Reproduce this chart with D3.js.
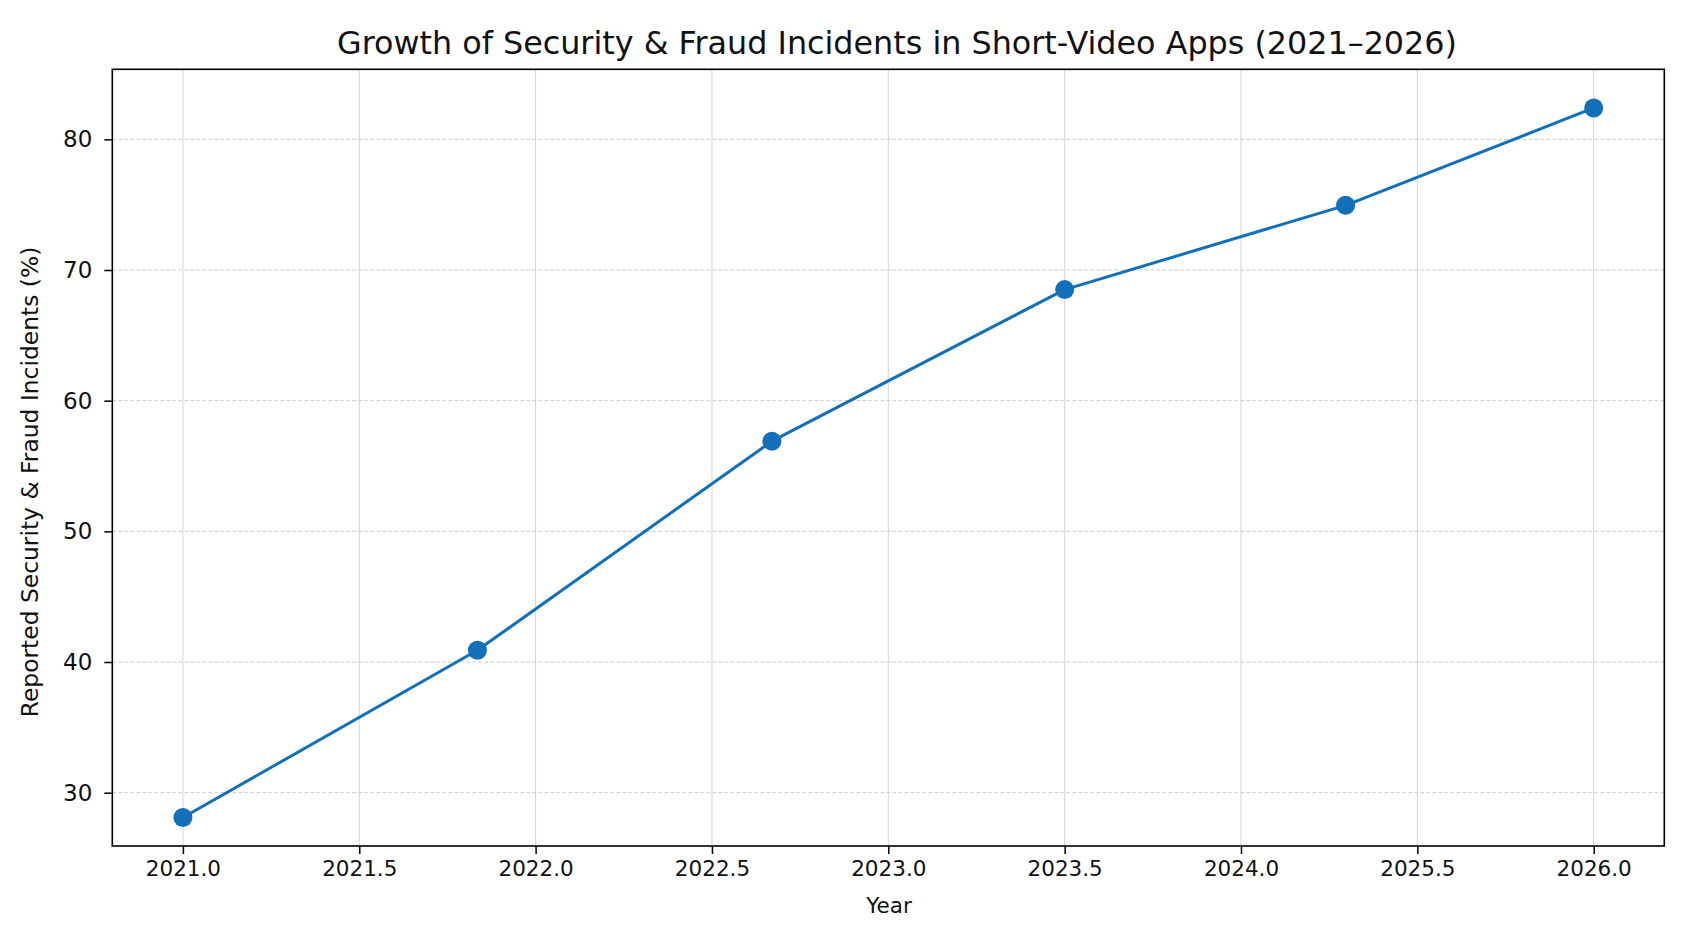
<!DOCTYPE html>
<html>
<head>
<meta charset="utf-8">
<script src="https://cdn.jsdelivr.net/npm/d3@7"></script>
<style>
  html, body { margin: 0; padding: 0; background: #ffffff; }
  svg { display: block; font-family: "DejaVu Sans", sans-serif; }
</style>
</head>
<body>
<svg id="chart" width="1681" height="935"></svg>
<script>
// ---- data ----
const title = "Growth of Security & Fraud Incidents in Short-Video Apps (2021–2026)";
const xLabel = "Year";
const yLabel = "Reported Security & Fraud Incidents (%)";
const years = [2021.0, 2021.835, 2022.67, 2023.5, 2024.89, 2026.0];
const incidents = [28.1, 40.9, 56.9, 68.5, 74.95, 82.4];
const xTickValues = [2021.0, 2021.5, 2022.0, 2022.5, 2023.0, 2023.5, 2024.0, 2025.5, 2026.0];
const xTickLabels = ["2021.0", "2021.5", "2022.0", "2022.5", "2023.0", "2023.5", "2024.0", "2025.5", "2026.0"];
const yTickValues = [30, 40, 50, 60, 70, 80];

// ---- layout ----
const W = 1681, H = 935;
const plot = { left: 112.3, right: 1664.3, top: 69.3, bottom: 846 };
const color = "#1170b9";

const svg = d3.select("#chart");
svg.append("rect").attr("width", W).attr("height", H).attr("fill", "#ffffff");

// x: evenly spaced ticks (axis labels as shown), polylinear mapping
const innerPad = (plot.right - plot.left) * 0.0455;
const xIdx = d3.scaleLinear().domain([0, xTickValues.length - 1])
  .range([plot.left + innerPad, plot.right - innerPad]);
const x = d3.scaleLinear().domain(xTickValues).range(xTickValues.map((_, i) => xIdx(i)));
const y = d3.scaleLinear().domain([25.92, 85.36]).range([plot.bottom, plot.top]);

// grid
const g = svg.append("g");
g.selectAll("line.vgrid").data(xTickValues).join("line")
  .attr("x1", d => x(d)).attr("x2", d => x(d))
  .attr("y1", plot.top).attr("y2", plot.bottom)
  .attr("stroke", "#d4d4d4").attr("stroke-width", 1);
g.selectAll("line.hgrid").data(yTickValues).join("line")
  .attr("x1", plot.left).attr("x2", plot.right)
  .attr("y1", d => y(d)).attr("y2", d => y(d))
  .attr("stroke", "#cccccc").attr("stroke-width", 1).attr("stroke-dasharray", "4,2");

// axes
const xAxis = d3.axisBottom(x).tickValues(xTickValues)
  .tickFormat((d, i) => xTickLabels[i]).tickSizeInner(8).tickSizeOuter(0).tickPadding(7);
const gx = svg.append("g").attr("transform", `translate(0,${plot.bottom})`).call(xAxis);
gx.select(".domain").remove();
gx.selectAll(".tick line").attr("stroke", "#000").attr("stroke-width", 1.5);
gx.selectAll(".tick text").attr("font-size", 21.5).attr("fill", "#111")
  .attr("font-family", "DejaVu Sans");

const yAxis = d3.axisLeft(y).tickValues(yTickValues).tickFormat(d3.format("d"))
  .tickSizeInner(8).tickSizeOuter(0).tickPadding(12);
const gy = svg.append("g").attr("transform", `translate(${plot.left},0)`).call(yAxis);
gy.select(".domain").remove();
gy.selectAll(".tick line").attr("stroke", "#000").attr("stroke-width", 1.5);
gy.selectAll(".tick text").attr("font-size", 23).attr("fill", "#111")
  .attr("font-family", "DejaVu Sans");

// frame
svg.append("rect")
  .attr("x", plot.left).attr("y", plot.top)
  .attr("width", plot.right - plot.left).attr("height", plot.bottom - plot.top)
  .attr("fill", "none").attr("stroke", "#000").attr("stroke-width", 1.6);

// line + markers
const pts = years.map((yr, i) => ({ yr, v: incidents[i] }));
svg.append("path").datum(pts)
  .attr("fill", "none").attr("stroke", color).attr("stroke-width", 3)
  .attr("stroke-linejoin", "round")
  .attr("d", d3.line().x(d => x(d.yr)).y(d => y(d.v)));
svg.selectAll("circle.pt").data(pts).join("circle")
  .attr("cx", d => x(d.yr)).attr("cy", d => y(d.v)).attr("r", 9.5)
  .attr("fill", color);

// labels
svg.append("text").attr("x", 897).attr("y", 54)
  .attr("text-anchor", "middle").attr("font-size", 31.8).attr("fill", "#111")
  .text(title);
svg.append("text").attr("x", 889).attr("y", 913)
  .attr("text-anchor", "middle").attr("font-size", 21.5).attr("fill", "#111")
  .text(xLabel);
svg.append("text").attr("transform", "translate(38,482) rotate(-90)")
  .attr("text-anchor", "middle").attr("font-size", 23.4).attr("fill", "#111")
  .text(yLabel);
</script>
</body>
</html>
